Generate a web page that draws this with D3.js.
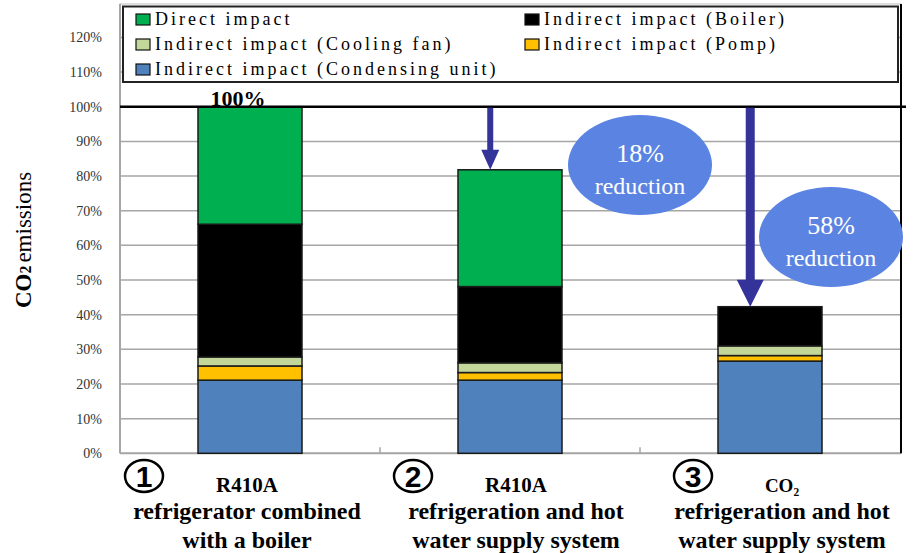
<!DOCTYPE html>
<html>
<head>
<meta charset="utf-8">
<script src="https://cdn.jsdelivr.net/npm/d3@7"></script>
<style>
  body { margin: 0; background: #fff; }
</style>
</head>
<body>
<div id="vis"></div>
<script>
// data (share of case 1 emissions)
const categories = ['case1', 'case2', 'case3'];
const keys = ['condensing', 'pump', 'fan', 'boiler', 'direct'];
const condensing = [0.211, 0.211, 0.266];
const pump       = [0.041, 0.022, 0.016];
const fan        = [0.026, 0.028, 0.028];
const boiler     = [0.383, 0.220, 0.113];
const direct     = [0.339, 0.337, 0.000];
const yTicks = [0, 0.1, 0.2, 0.3, 0.4, 0.5, 0.6, 0.7, 0.8, 0.9, 1.0, 1.1, 1.2];
const circledNums = ['1', '2', '3'];
const line1 = ['R410A', 'R410A', 'CO₂'];
const line2 = ['refrigerator combined', 'refrigeration and hot', 'refrigeration and hot'];
const line3 = ['with a boiler', 'water supply system', 'water supply system'];
const reductionLabels = ['18%', '58%'];

const legendItems = [
  {key: 'direct', label: 'Direct impact', col: 0, row: 0},
  {key: 'boiler', label: 'Indirect impact (Boiler)', col: 1, row: 0},
  {key: 'fan', label: 'Indirect impact (Cooling fan)', col: 0, row: 1},
  {key: 'pump', label: 'Indirect impact (Pomp)', col: 1, row: 1},
  {key: 'condensing', label: 'Indirect impact (Condensing unit)', col: 0, row: 2}
];
const colors = {
  direct: '#00b050', boiler: '#000000', fan: '#c4d79b',
  pump: '#ffc000', condensing: '#4f81bd'
};

const serif = '"Liberation Serif", "Times New Roman", "DejaVu Serif", serif';
const width = 913, height = 553;
const left = 120, right = 901, bottom = 453.3;

const rows = categories.map((c, i) => ({
  cat: c, condensing: condensing[i], pump: pump[i], fan: fan[i],
  boiler: boiler[i], direct: direct[i]
}));
const totals = rows.map(r => keys.reduce((s, k) => s + r[k], 0));

const svg = d3.select('#vis').append('svg')
  .attr('width', width)
  .attr('height', height)
  .attr('font-family', serif)
  .style('display', 'block');

const x = d3.scaleBand().domain(categories).range([left, left + 780])
  .paddingInner(0.6).paddingOuter(0.3);
const y = d3.scaleLinear().domain([0, 1.2]).range([bottom, 37.4]);

// frame
svg.append('rect')
  .attr('x', left).attr('y', 4)
  .attr('width', right - left).attr('height', bottom - 4)
  .attr('fill', 'none').attr('stroke', '#bdbdbd').attr('stroke-width', 1);

// gridlines
svg.selectAll('line.grid')
  .data(yTicks.filter(d => d > 0 && d !== 1.0))
  .enter().append('line')
  .attr('class', 'grid')
  .attr('x1', left).attr('x2', right)
  .attr('y1', d => y(d)).attr('y2', d => y(d))
  .attr('stroke', '#a6a6a6').attr('stroke-width', 1.5);

// y tick labels
svg.selectAll('text.ytick')
  .data(yTicks)
  .enter().append('text')
  .attr('class', 'ytick')
  .attr('x', 102)
  .attr('y', d => y(d) + 5)
  .attr('text-anchor', 'end')
  .attr('font-size', 14)
  .attr('fill', '#333')
  .text(d => Math.round(d * 100) + '%');

// x axis line and category dividers
svg.append('line')
  .attr('x1', left).attr('x2', right)
  .attr('y1', bottom).attr('y2', bottom)
  .attr('stroke', '#a6a6a6').attr('stroke-width', 2);
svg.append('line')
  .attr('x1', left).attr('x2', left)
  .attr('y1', 4).attr('y2', bottom)
  .attr('stroke', '#a6a6a6').attr('stroke-width', 2);
svg.selectAll('line.divider')
  .data(categories.slice(1))
  .enter().append('line')
  .attr('class', 'divider')
  .attr('x1', d => x(d) - x.step() * 0.3).attr('x2', d => x(d) - x.step() * 0.3)
  .attr('y1', bottom - 6).attr('y2', bottom)
  .attr('stroke', '#a6a6a6').attr('stroke-width', 1.5);
svg.append('line')
  .attr('x1', right).attr('x2', right)
  .attr('y1', 4).attr('y2', bottom)
  .attr('stroke', '#000').attr('stroke-width', 2);

// stacked bars
const stacked = d3.stack().keys(keys)(rows);
svg.append('g').selectAll('g')
  .data(stacked)
  .enter().append('g')
  .attr('fill', d => colors[d.key])
  .selectAll('rect')
  .data(d => d.filter(s => s[1] - s[0] > 0))
  .enter().append('rect')
  .attr('x', d => x(d.data.cat))
  .attr('y', d => y(d[1]))
  .attr('width', x.bandwidth())
  .attr('height', d => y(d[0]) - y(d[1]))
  .attr('stroke', '#1a1a1a')
  .attr('stroke-width', 1.5);

// 100% reference line
svg.append('line')
  .attr('x1', left).attr('x2', 906)
  .attr('y1', y(1.0)).attr('y2', y(1.0))
  .attr('stroke', '#000').attr('stroke-width', 2.5);

svg.append('text')
  .attr('x', x('case1') + x.bandwidth() / 2 - 12)
  .attr('y', y(1.0) - 1)
  .attr('text-anchor', 'middle')
  .attr('font-size', 22)
  .attr('font-weight', 'bold')
  .text('100%');

// reduction arrows
const arrowSpecs = [
  {cat: 'case2', total: totals[1], shaft: 6, head: 18, headH: 20},
  {cat: 'case3', total: totals[2], shaft: 9, head: 27, headH: 27}
];
arrowSpecs.forEach(a => {
  const cx = x(a.cat) + x.bandwidth() * 0.31;
  const top = y(1.0) + 1, tip = y(a.total);
  svg.append('rect')
    .attr('x', cx - a.shaft / 2).attr('y', top)
    .attr('width', a.shaft).attr('height', tip - a.headH - top + 1)
    .attr('fill', '#333399');
  svg.append('path')
    .attr('d', `M${cx - a.head / 2},${tip - a.headH} L${cx + a.head / 2},${tip - a.headH} L${cx},${tip} Z`)
    .attr('fill', '#333399');
});

// reduction bubbles
const bubbles = [
  {cx: x('case2') + x.bandwidth() + 78, cy: y(0.832), label: reductionLabels[0]},
  {cx: x('case3') + x.bandwidth() + 9, cy: y(0.624), label: reductionLabels[1]}
];
bubbles.forEach(b => {
  svg.append('ellipse')
    .attr('cx', b.cx).attr('cy', b.cy)
    .attr('rx', 72).attr('ry', 50)
    .attr('fill', '#5b84e2');
  svg.append('text')
    .attr('x', b.cx).attr('y', b.cy - 3)
    .attr('text-anchor', 'middle')
    .attr('font-size', 26)
    .attr('fill', '#fff')
    .text(b.label);
  svg.append('text')
    .attr('x', b.cx).attr('y', b.cy + 29)
    .attr('text-anchor', 'middle')
    .attr('font-size', 24)
    .attr('fill', '#fff')
    .text('reduction');
});

// legend
const lg = svg.append('g');
lg.append('rect')
  .attr('x', 123).attr('y', 6.5)
  .attr('width', 775).attr('height', 75.5)
  .attr('fill', '#fff').attr('stroke', '#222').attr('stroke-width', 2);
const colX = [136, 525];
const legendRow = lg.selectAll('g.item')
  .data(legendItems)
  .enter().append('g')
  .attr('class', 'item')
  .attr('transform', d => `translate(${colX[d.col]},${25 + d.row * 25})`);
legendRow.append('rect')
  .attr('x', 0).attr('y', -11)
  .attr('width', 14).attr('height', 11)
  .attr('fill', d => colors[d.key])
  .attr('stroke', '#111').attr('stroke-width', 1.2);
legendRow.append('text')
  .attr('x', 19).attr('y', 0)
  .attr('font-size', 18)
  .attr('letter-spacing', 3)
  .text(d => d.label);

// y axis title
const yt = svg.append('text')
  .attr('transform', 'translate(31,240) rotate(-90)')
  .attr('text-anchor', 'middle')
  .attr('font-size', 23);
yt.append('tspan').attr('font-weight', 'bold').text('CO');
yt.append('tspan').attr('font-weight', 'bold').attr('font-size', 16).text('2');
yt.append('tspan').attr('dx', 3).text('emissions');

// category labels
const numOffset = [-106, -97, -77];
const textOffset = [-3, 6, 12];
const catG = svg.selectAll('g.cat')
  .data(categories)
  .enter().append('g')
  .attr('class', 'cat');
catG.append('ellipse')
  .attr('cx', (d, i) => x(d) + x.bandwidth() / 2 + numOffset[i])
  .attr('cy', 476)
  .attr('rx', 19).attr('ry', 16)
  .attr('fill', 'none').attr('stroke', '#000').attr('stroke-width', 2.5);
catG.append('text')
  .attr('x', (d, i) => x(d) + x.bandwidth() / 2 + numOffset[i])
  .attr('y', 487)
  .attr('text-anchor', 'middle')
  .attr('font-family', '"Liberation Sans", Arial, sans-serif')
  .attr('font-weight', 'bold')
  .attr('font-size', 30)
  .text((d, i) => circledNums[i]);
catG.append('text')
  .attr('x', (d, i) => x(d) + x.bandwidth() / 2 + textOffset[i])
  .attr('y', 492)
  .attr('text-anchor', 'middle')
  .attr('font-weight', 'bold')
  .attr('font-size', (d, i) => i === 2 ? 19 : 21)
  .text((d, i) => line1[i]);
catG.append('text')
  .attr('x', (d, i) => x(d) + x.bandwidth() / 2 + textOffset[i])
  .attr('y', 519)
  .attr('text-anchor', 'middle')
  .attr('font-weight', 'bold')
  .attr('font-size', 24)
  .text((d, i) => line2[i]);
catG.append('text')
  .attr('x', (d, i) => x(d) + x.bandwidth() / 2 + textOffset[i])
  .attr('y', 548)
  .attr('text-anchor', 'middle')
  .attr('font-weight', 'bold')
  .attr('font-size', 24)
  .text((d, i) => line3[i]);
</script>
</body>
</html>
